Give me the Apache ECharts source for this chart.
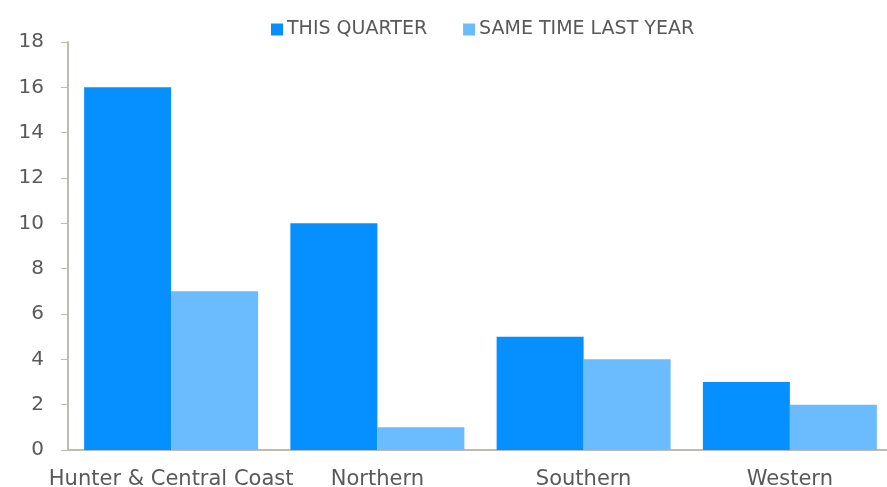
<!DOCTYPE html>
<html><head><meta charset="utf-8">
<script src="https://cdn.jsdelivr.net/npm/echarts@6/dist/echarts.min.js"></script>
<style>html,body{margin:0;padding:0;background:#fff}#c{width:887px;height:487px}</style>
</head><body><div id="c"></div>
<script>
const categories = ["Hunter & Central Coast", "Northern", "Southern", "Western"];
const thisQuarter = [16, 10, 5, 3];
const lastYear = [7, 1, 4, 2];
const seriesNames = ["THIS QUARTER", "SAME TIME LAST YEAR"];
const FONT = "'DejaVu Sans', sans-serif";
const chart = echarts.init(document.getElementById('c'), null, {renderer: 'canvas'});
chart.setOption({
  animation: false,
  textStyle: {fontFamily: FONT},
  legend: {
    left: 266, top: 15, itemWidth: 12, itemHeight: 12, itemGap: 36,
    icon: 'rect',
    textStyle: {fontFamily: FONT, fontSize: 19, color: '#595959', padding: [0,0,0,-1]},
    data: seriesNames
  },
  grid: {left: 68, width: 825, top: 42, bottom: 37, containLabel: false, outerBoundsMode: 'none'},
  xAxis: {
    type: 'category', data: categories,
    axisLine: {lineStyle: {color: '#BDBDAF', width: 2}},
    axisTick: {show: false},
    axisLabel: {fontFamily: FONT, fontSize: 21, color: '#595959', margin: 19, interval: 0}
  },
  yAxis: {
    type: 'value', min: 0, max: 18, interval: 2,
    axisLine: {show: true, lineStyle: {color: '#BDBDAF', width: 2}},
    axisTick: {show: true, length: 7, lineStyle: {color: '#BDBDAF', width: 1}},
    splitLine: {show: false},
    axisLabel: {fontFamily: FONT, fontSize: 20, color: '#595959', margin: 24}
  },
  series: [
    {name: seriesNames[0], type: 'bar', data: thisQuarter, barWidth: 87, barGap: '0%',
     itemStyle: {color: '#0690FF'}},
    {name: seriesNames[1], type: 'bar', data: lastYear, barWidth: 87, barGap: '0%',
     itemStyle: {color: '#6BBBFF'}}
  ]
});
</script></body></html>
